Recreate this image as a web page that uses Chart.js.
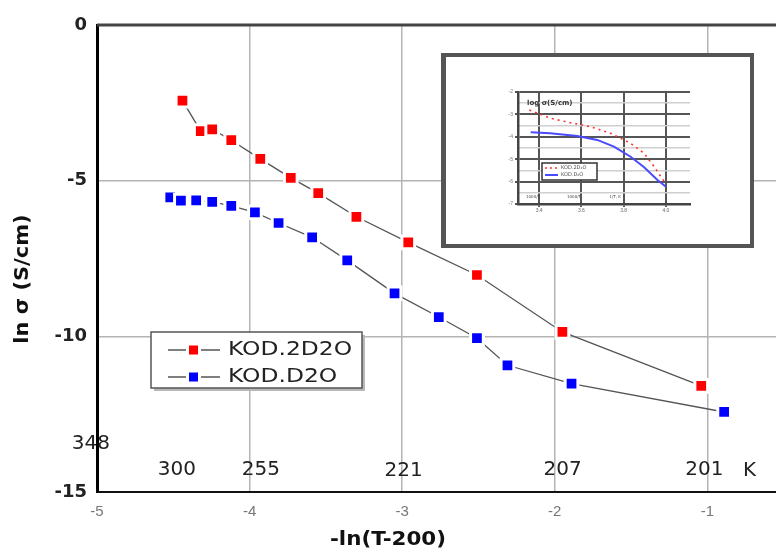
<!DOCTYPE html>
<html>
<head>
<meta charset="utf-8">
<script src="https://cdn.jsdelivr.net/npm/chart.js@4.4.1/dist/chart.umd.min.js"></script>
<style>
  html, body { margin: 0; padding: 0; background: #fff; }
  #wrap { position: relative; width: 776px; height: 553px; overflow: hidden; }
  #main { position: absolute; left: 0; top: 0; }
  #inset { position: absolute; left: 441px; top: 53px; }
</style>
</head>
<body>
<div id="wrap">
  <canvas id="main" width="776" height="553"></canvas>
  <canvas id="inset" width="313" height="195"></canvas>
</div>
<script>
// main plot: -ln(T-200) vs ln sigma
const redX  = [-4.44, -4.32, -4.245, -4.12, -3.93, -3.73, -3.55, -3.30, -2.96, -2.51, -1.95, -1.04];
const redY  = [-2.43, -3.41, -3.35, -3.70, -4.30, -4.91, -5.40, -6.16, -6.98, -8.03, -9.86, -11.59];
const blueX = [-4.52, -4.45, -4.35, -4.245, -4.12, -3.965, -3.81, -3.59, -3.36, -3.05, -2.76, -2.51, -2.31, -1.89, -0.89];
const blueY = [-5.54, -5.64, -5.63, -5.68, -5.81, -6.02, -6.36, -6.82, -7.56, -8.62, -9.38, -10.06, -10.93, -11.52, -12.43];
const seriesNames = ['KOD.2D2O', 'KOD.D2O'];

const xTicks = [-5, -4, -3, -2, -1];
const yTicks = [0, -5, -10, -15];

// temperature labels (K) written inside the plot
const tempLabels = ['348', '300', '255', '221', '207', '201', 'K'];
const tempX = [-5.04, -4.476, -3.926, -2.99, -1.948, -1.02, -0.724];
const tempY = [-13.44, -14.28, -14.28, -14.33, -14.28, -14.28, -14.33];

// small inset (log sigma vs 1/T)
const insetRedX  = [3.354, 3.452, 3.548, 3.643, 3.738, 3.833, 3.897, 3.944, 3.992];
const insetRedY  = [-2.80, -3.17, -3.37, -3.55, -3.84, -4.29, -4.74, -5.33, -6.00];
const insetBlueX = [3.360, 3.452, 3.580, 3.675, 3.754, 3.833, 3.897, 3.960, 4.000];
const insetBlueY = [-3.80, -3.84, -3.96, -4.14, -4.44, -4.89, -5.36, -5.93, -6.23];
const insetXTicks = [3.4, 3.6, 3.8, 4.0];
const insetYTicks = [-2, -3, -4, -5, -6, -7];
const insetYMinor = [-2.5, -3.5, -4.5, -5.5, -6.5];

const pts = (xs, ys) => xs.map((x, i) => ({ x, y: ys[i] }));

function stretchText(ctx, txt, x, y, sx, font, color, rot, align) {
  ctx.save();
  ctx.translate(x, y);
  if (rot) ctx.rotate(rot);
  ctx.scale(sx, 1);
  ctx.font = font;
  ctx.fillStyle = color;
  ctx.textAlign = align || 'center';
  ctx.textBaseline = 'middle';
  ctx.fillText(txt, 0, 0);
  ctx.restore();
}

const mainDecor = {
  id: 'mainDecor',
  beforeDatasetsDraw(chart) {
    const { ctx, chartArea: a } = chart;
    ctx.save();
    ctx.strokeStyle = '#444';
    ctx.lineWidth = 3;
    ctx.beginPath();
    ctx.moveTo(a.left, a.top);
    ctx.lineTo(a.right, a.top);
    ctx.stroke();
    ctx.restore();
  },
  afterDatasetsDraw(chart) {
    const { ctx } = chart;
    const xs = chart.scales.x, ys = chart.scales.y;

    tempLabels.forEach((t, i) => {
      stretchText(ctx, t, xs.getPixelForValue(tempX[i]), ys.getPixelForValue(tempY[i]), 1,
        '20px "DejaVu Sans"', '#222');
    });

    // axis titles
    stretchText(ctx, '-ln(T-200)', 388, 540, 1.07, 'bold 20px "DejaVu Sans"', '#111');
    stretchText(ctx, 'ln σ (S/cm)', 23, 279, 1.05, 'bold 20px "DejaVu Sans"', '#111', -Math.PI / 2);

    // legend
    ctx.save();
    ctx.fillStyle = '#b8b8b8';
    ctx.fillRect(154, 335, 211, 56);
    ctx.fillStyle = '#fff';
    ctx.fillRect(151, 332, 211, 56);
    ctx.strokeStyle = '#555';
    ctx.lineWidth = 1.5;
    ctx.strokeRect(151, 332, 211, 56);
    const rows = [350, 377];
    const cols = ['#ff0000', '#0000ff'];
    rows.forEach((ry, i) => {
      ctx.strokeStyle = '#555';
      ctx.lineWidth = 1.3;
      ctx.beginPath();
      ctx.moveTo(168, ry); ctx.lineTo(186, ry);
      ctx.moveTo(201, ry); ctx.lineTo(220, ry);
      ctx.stroke();
      ctx.fillStyle = cols[i];
      ctx.fillRect(189, ry - 4.5, 9, 9);
      stretchText(ctx, seriesNames[i], 228, ry, 1.17, '20px "DejaVu Sans"', '#222', 0, 'left');
    });
    ctx.restore();
  }
};

const gridColor = '#b4b4b4';

function seriesStyle(color) {
  return {
    showLine: true,
    borderColor: '#555',
    borderWidth: 1.3,
    pointStyle: 'rect',
    pointRadius: 9,
    pointBackgroundColor: color,
    pointBorderColor: '#fff',
    pointBorderWidth: 3
  };
}

new Chart(document.getElementById('main'), {
  type: 'scatter',
  data: {
    datasets: [
      Object.assign({ label: seriesNames[0], data: pts(redX, redY) }, seriesStyle('#ff0000')),
      Object.assign({ label: seriesNames[1], data: pts(blueX, blueY) }, seriesStyle('#0000ff'))
    ]
  },
  options: {
    responsive: false,
    animation: false,
    devicePixelRatio: 1,
    layout: { autoPadding: false, padding: { top: 25, left: 0, right: 0, bottom: 0 } },
    plugins: { legend: { display: false }, tooltip: { enabled: false } },
    scales: {
      x: {
        type: 'linear',
        min: -5,
        max: -0.55,
        afterBuildTicks: s => { s.ticks = xTicks.map(v => ({ value: v })); },
        afterFit: s => { s.height = 61; s.paddingLeft = 0; s.paddingRight = 0; },
        grid: { color: gridColor, lineWidth: 1.5, drawTicks: false },
        border: { color: '#111', width: 2 },
        ticks: { padding: 11, color: '#777', font: { family: 'Liberation Sans', size: 15 } }
      },
      y: {
        type: 'linear',
        min: -15,
        max: 0,
        afterBuildTicks: s => { s.ticks = yTicks.map(v => ({ value: v })); },
        afterFit: s => { s.width = 97; },
        grid: { color: gridColor, lineWidth: 1.5, drawTicks: false },
        border: { color: '#000', width: 3 },
        ticks: { padding: 10, color: '#222', font: { family: 'DejaVu Sans', size: 18, weight: 'bold' } }
      }
    }
  },
  plugins: [mainDecor]
});

const insetDecor = {
  id: 'insetDecor',
  beforeDraw(chart) {
    const { ctx, width, height } = chart;
    ctx.save();
    ctx.fillStyle = '#fff';
    ctx.fillRect(0, 0, width, height);
    ctx.restore();
  },
  afterDatasetsDraw(chart) {
    const { ctx, width, height } = chart;
    ctx.save();
    ctx.strokeStyle = '#555';
    ctx.lineWidth = 4;
    ctx.strokeRect(2, 2, width - 4, height - 4);
    ctx.fillStyle = '#555';
    ctx.fillRect(0, 0, 5, height);

    stretchText(ctx, 'log σ(S/cm)', 86, 50, 1, 'bold 7px "DejaVu Sans"', '#333', 0, 'left');

    // inset legend
    ctx.fillStyle = '#fff';
    ctx.fillRect(101, 110, 55, 17);
    ctx.strokeStyle = '#333';
    ctx.lineWidth = 1.5;
    ctx.strokeRect(101, 110, 55, 17);
    ctx.setLineDash([2, 3]);
    ctx.strokeStyle = '#ff3030';
    ctx.beginPath(); ctx.moveTo(104, 115); ctx.lineTo(117, 115); ctx.stroke();
    ctx.setLineDash([]);
    ctx.strokeStyle = '#4a4aff';
    ctx.lineWidth = 2;
    ctx.beginPath(); ctx.moveTo(104, 122); ctx.lineTo(117, 122); ctx.stroke();
    stretchText(ctx, 'KOD.2D₂O', 120, 115, 1, '5px "DejaVu Sans"', '#555', 0, 'left');
    stretchText(ctx, 'KOD.D₂O', 120, 122, 1, '5px "DejaVu Sans"', '#555', 0, 'left');

    ['1000/T', '1000/T', '1/T, K⁻¹'].forEach((t, i) => {
      stretchText(ctx, t, [92, 133, 176][i], 144, 1, '4px "DejaVu Sans"', '#444');
    });
    ctx.restore();
  }
};

new Chart(document.getElementById('inset'), {
  type: 'scatter',
  data: {
    datasets: [
      {
        data: pts(insetRedX, insetRedY),
        showLine: true,
        borderColor: '#ff3030',
        borderWidth: 1.6,
        borderDash: [2, 4],
        pointRadius: 0
      },
      {
        data: pts(insetBlueX, insetBlueY),
        showLine: true,
        borderColor: '#4a4aff',
        borderWidth: 2,
        pointRadius: 0
      }
    ]
  },
  options: {
    responsive: false,
    animation: false,
    devicePixelRatio: 1,
    layout: { autoPadding: false, padding: { top: 39, right: 64, left: 0, bottom: 0 } },
    plugins: { legend: { display: false }, tooltip: { enabled: false } },
    scales: {
      x: {
        type: 'linear',
        min: 3.3,
        max: 4.114,
        afterBuildTicks: s => { s.ticks = insetXTicks.map(v => ({ value: v })); },
        afterFit: s => { s.height = 44; s.paddingLeft = 0; s.paddingRight = 0; },
        grid: { color: '#555', lineWidth: 2, tickLength: 3 },
        border: { color: '#444', width: 2.5 },
        ticks: { padding: 1, color: '#666', font: { size: 5 } }
      },
      y: {
        type: 'linear',
        min: -7,
        max: -2,
        afterBuildTicks: s => { s.ticks = insetYTicks.map(v => ({ value: v })); },
        afterFit: s => { s.width = 77; },
        grid: { color: '#555', lineWidth: 2, tickLength: 3 },
        border: { color: '#444', width: 2.5 },
        ticks: { padding: 2, color: '#777', font: { size: 5 } }
      },
      y2: {
        axis: 'y',
        type: 'linear',
        position: 'left',
        min: -7,
        max: -2,
        afterBuildTicks: s => { s.ticks = insetYMinor.map(v => ({ value: v })); },
        afterFit: s => { s.width = 0; },
        grid: { color: '#cfcfcf', lineWidth: 1.5, borderDash: [8, 12], drawTicks: false },
        border: { display: false },
        ticks: { display: false }
      }
    }
  },
  plugins: [insetDecor]
});
</script>
</body>
</html>
